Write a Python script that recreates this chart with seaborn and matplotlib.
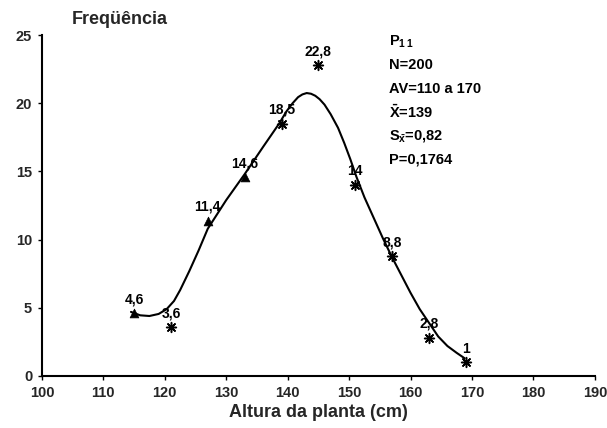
import matplotlib
matplotlib.use("Agg")
import matplotlib.pyplot as plt
import seaborn as sns
import pandas as pd

# Observed class midpoints and frequencies (%)
altura = [115, 121, 127, 133, 139, 145, 151, 157, 163, 169]
freq = [4.6, 3.6, 11.4, 14.6, 18.5, 22.8, 14.0, 8.8, 2.8, 1.0]
rotulos = ["4,6", "3,6", "11,4", "14,6", "18,5", "22,8", "14", "8,8", "2,8", "1"]
marca = ["tri", "ast", "tri", "tri", "ast", "ast", "ast", "ast", "ast", "ast"]

# Fitted curve
curva_x = [114.5, 116, 117.5, 119, 120.3, 121.5, 122.5, 124, 125.5, 127, 130,
           133, 136, 138.6, 139.8, 140.8, 141.7, 142.4, 143.1, 143.8, 144.5,
           145.2, 146, 147, 148.2, 149.2, 150.2, 151.2, 152.5, 154, 155.5, 157,
           158.5, 160, 161.5, 163, 164.5, 166, 167.5, 168.8]
curva_y = [4.7, 4.45, 4.4, 4.55, 4.9, 5.5, 6.3, 7.7, 9.2, 10.8, 12.9,
           14.8, 16.8, 18.5, 19.4, 20.0, 20.45, 20.65, 20.75, 20.7, 20.55,
           20.3, 19.9, 19.2, 18.2, 17.1, 15.9, 14.6, 13.1, 11.6, 10.1, 8.7,
           7.4, 6.1, 4.9, 3.9, 2.9, 2.2, 1.7, 1.3]

xticks = [100, 110, 120, 130, 140, 150, 160, 170, 180, 190]
yticks = [0, 5, 10, 15, 20, 25]

estat = ["P$_{1\,1}$", "N=200", "AV=110 a 170", r"$\bar{\mathbf{X}}$=139",
         r"S$_{\bar{x}}$=0,82", "P=0,1764"]

sns.set_theme(style="white")
plt.rcParams['font.family'] = ['Liberation Sans', 'DejaVu Sans']
plt.rcParams['mathtext.fontset'] = 'custom'
plt.rcParams['mathtext.rm'] = 'Liberation Sans:bold'
plt.rcParams['mathtext.it'] = 'Liberation Sans:bold'
plt.rcParams['mathtext.bf'] = 'Liberation Sans:bold'

df = pd.DataFrame({"altura": altura, "freq": freq, "marca": marca})
dc = pd.DataFrame({"x": curva_x, "y": curva_y})

fig = plt.figure(figsize=(6.07, 4.28), dpi=100)
ax = fig.add_axes([0.069, 0.1215, 0.911, 0.7965])

sns.lineplot(data=dc, x="x", y="y", ax=ax, color="black", lw=1.5, sort=False)
sns.scatterplot(data=df[df.marca == "ast"], x="altura", y="freq", ax=ax,
                marker=(8, 2, 0), s=50, color="black", linewidth=1.1)
sns.scatterplot(data=df[df.marca == "tri"], x="altura", y="freq", ax=ax,
                marker="^", s=40, color="black", edgecolor="black")

for xv, yv, t in zip(altura, freq, rotulos):
    ax.text(xv, yv + 0.5, t, ha="center", va="bottom", fontsize=10,
            fontweight="bold", color="black")

for i, t in enumerate(estat):
    ax.text(156.5, 24.5 - i * 1.72, t, ha="left", va="center", fontsize=10.5,
            fontweight="bold", color="black")

ax.set_xlim(100, 190)
ax.set_ylim(0, 25)
ax.set_xticks(xticks)
ax.set_yticks(yticks)
ax.set_xticklabels([str(v) for v in xticks], fontweight="bold", fontsize=10.5)
ax.set_yticklabels([str(v) for v in yticks], fontweight="bold", fontsize=10.5)
ax.tick_params(axis="both", direction="out", length=3, width=1, color="black",
               bottom=True, left=True, pad=4)
for s in ["top", "right"]:
    ax.spines[s].set_visible(False)
for s in ["left", "bottom"]:
    ax.spines[s].set_color("black")
    ax.spines[s].set_linewidth(1.5)

ax.set_xlabel("Altura da planta (cm)", fontsize=13, fontweight="bold", labelpad=3)
ax.set_ylabel("")
fig.text(0.118, 0.955, "Freqüência", fontsize=13, fontweight="bold",
         ha="left", va="center")

fig.savefig("out.png", dpi=100)
